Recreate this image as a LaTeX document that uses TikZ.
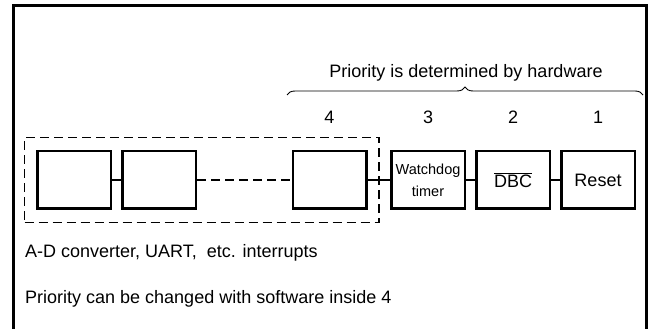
\documentclass[tikz,border=0pt]{standalone}
\usepackage{fontspec}
\setmainfont{Liberation Sans}
\usetikzlibrary{positioning, fit, decorations.pathreplacing}

\begin{document}
\begin{tikzpicture}[x=1pt, y=1pt, node distance=85pt, font=\fontsize{18}{21}\selectfont]

    \tikzstyle{intbox} = [rectangle, minimum width=73.5pt, minimum height=57.5pt, text centered, draw=black, line width=2.5pt, inner sep=0pt]
    \tikzstyle{group} = [rectangle, draw=black, line width=1.2pt, dash pattern=on 9pt off 5pt, inner xsep=11.5pt, inner ysep=12.5pt]
    \tikzstyle{link} = [line width=1.2pt]
    \tikzstyle{num} = [inner sep=0pt]

    \useasboundingbox (0,0) rectangle (650,329);
    \draw[line width=3pt] (13.5,-10) -- (13.5,323) -- (646.5,323) -- (646.5,-10);

    \node[intbox] (b1) at (74,149) {};
    \node[intbox, right of=b1] (b2) {};
    \node[intbox, right of=b2, xshift=85.5pt] (b4) {};
    \node[intbox, right of=b4, xshift=13.5pt, align=center, font=\fontsize{14.5}{22}\selectfont] (wdt) {Watchdog\\timer};
    \node[intbox, right of=wdt] (dbc) {$\overline{\mbox{DBC}}$};
    \node[intbox, right of=dbc] (rst) {Reset};

    \draw[link] (b1) -- (b2);
    \draw[link, dash pattern=on 9pt off 5pt] (b2) -- (b4);
    \draw[link] (b4) -- (wdt);
    \draw[link] (wdt) -- (dbc);
    \draw[link] (dbc) -- (rst);

    \node[group, fit=(b1)(b4)] (swgrp) {};

    \node[num] (p4) at ([yshift=63pt]b4.center) {4};
    \node[num] (p3) at ([yshift=63pt]wdt.center) {3};
    \node[num] (p2) at ([yshift=63pt]dbc.center) {2};
    \node[num] (p1) at ([yshift=63pt]rst.center) {1};

    \coordinate (hwl) at (287,234);
    \coordinate (hwr) at (643,234);
    \draw[decorate, decoration={brace, amplitude=8pt}, line width=0.9pt] (hwl) -- (hwr);
    \node (hw) at (466,256) {Priority is determined by hardware};

    \node[anchor=west, inner sep=0pt] (adc) at (25,76) {A-D converter, UART,\ \ etc. interrupts};
    \node[anchor=west, inner sep=0pt] (sw4) at (25,30) {Priority can be changed with software inside 4};

\end{tikzpicture}
\end{document}
